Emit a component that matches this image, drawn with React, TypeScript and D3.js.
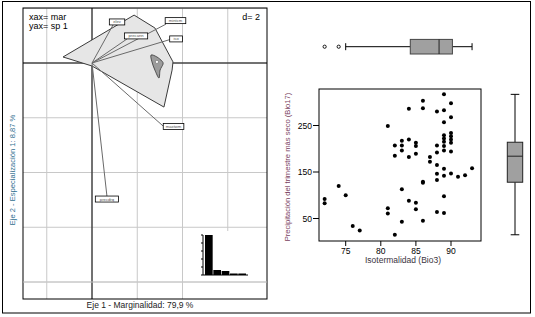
import React from "react";
import * as d3 from "d3";

// ---------- data ----------
const isoVals = [72, 72, 74, 75, 76, 77, 81, 81, 81, 82, 82, 82, 83, 83, 83, 83, 83, 84, 84, 84, 84, 85, 85, 85, 85, 85, 86, 86, 86, 86, 86, 87, 87, 88, 88, 88, 88, 88, 88, 88, 89, 89, 89, 89, 89, 89, 89, 89, 89, 89, 89, 89, 90, 90, 90, 90, 90, 90, 90, 90, 91, 92, 93];
const bio17Vals = [92, 83, 120, 100, 34, 24, 249, 72, 61, 207, 185, 15, 217, 207, 196, 113, 43, 286, 220, 182, 88, 213, 206, 189, 84, 70, 303, 287, 129, 127, 45, 182, 172, 280, 207, 192, 165, 146, 133, 64, 317, 283, 257, 229, 222, 215, 206, 196, 157, 142, 98, 62, 298, 268, 234, 227, 220, 213, 194, 147, 140, 143, 158];

const xTicks = [75, 80, 85, 90];
const yTicks = [50, 150, 250];

// boxplot stats: [whiskerLow, q1, median, q3, whiskerHigh]
const isoBox = [75, 84.2, 88.3, 90.2, 93];
const isoOutliers = [72, 74];
const bio17Box = [15, 128, 184, 214, 317];

// ENFA plot
const varNames = ["elev", "precann", "mintcm", "iso", "maxtwm", "precdrq"];
const varX = [0.93, 1.55, 3.27, 3.54, 3.14, 0.66];
const varY = [1.39, 0.88, 1.42, 0.88, -2.3, -4.86];
const hullX = [-1.28, 1.86, 2.78, 3.58, 3.54, 3.18, 0];
const hullY = [0.22, 1.75, 1.28, 0.04, -0.26, -1.61, -0.11];
const coreX = [2.61, 2.87, 3.09, 3.14, 3.01, 2.96, 2.78, 2.65];
const coreY = [0.29, 0.22, 0.07, -0.04, -0.26, -0.55, -0.26, 0.04];
const centroid = [2.87, 0.04];
const gridVals = [-2, 0, 2, 4, 6];
const gridValsY = [2, 0, -2, -4, -6, -8];
const eigen = [40, 5, 4, 1.5, 1.5];

const FONT = "Liberation Sans, Arial, sans-serif";

export default function App() {
  // ---------- left ENFA panel ----------
  const L = { x0: 23, x1: 267, y0: 8, y1: 299 };
  const ex = d3.scaleLinear().domain([0, 2]).range([92, 137.25]);
  const ey = d3.scaleLinear().domain([0, -2]).range([63, 117.75]);
  const line = d3.line<[number, number]>().x((d) => ex(d[0])).y((d) => ey(d[1]));
  const hull = hullX.map((v, i) => [v, hullY[i]] as [number, number]);
  const core = coreX.map((v, i) => [v, coreY[i]] as [number, number]);
  const labelOff = [
    [4, -3], [9, -3], [9.5, -3.5], [4, 0], [10.5, 0.5], [0, 3],
  ];

  // eigen inset
  const ib = { x0: 203, x1: 248, y0: 235, y1: 275 };
  const ibx = d3.scaleBand<number>().domain(eigen.map((_, i) => i)).range([205, 246]).paddingInner(0.08);
  const iby = d3.scaleLinear().domain([0, 40]).range([275, 235]);

  // ---------- scatter ----------
  const S = { x0: 319, x1: 481, y0: 89, y1: 241 };
  const sx = d3.scaleLinear().domain([75, 90]).range([345.7, 451]);
  const sy = d3.scaleLinear().domain([50, 250]).range([218.5, 125.5]);

  const boxY = 46.7;
  const boxX = 515;

  return (
    <svg width={535} height={317} style={{ position: "absolute", left: 0, top: 0, background: "#fff" }} fontFamily={FONT}>
      <rect x={2.5} y={1.5} width={528} height={311.5} fill="#fff" stroke="#000" strokeWidth={1} />

      {/* ENFA panel */}
      <g>
        <rect x={L.x0} y={L.y0} width={L.x1 - L.x0} height={L.y1 - L.y0} fill="#fff" />
        {gridVals.map((g) => (
          <line key={"gx" + g} x1={ex(g)} x2={ex(g)} y1={L.y0} y2={g === 6 ? 231 : L.y1} stroke="#c8c8c8" strokeWidth={1} />
        ))}
        {gridValsY.map((g) => (
          <line key={"gy" + g} x1={L.x0} x2={L.x1} y1={ey(g)} y2={ey(g)} stroke="#c8c8c8" strokeWidth={1} />
        ))}
        <line x1={ex(0)} x2={ex(0)} y1={L.y0} y2={L.y1} stroke="#000" strokeWidth={1} />
        <line x1={L.x0} x2={L.x1} y1={ey(0)} y2={ey(0)} stroke="#000" strokeWidth={1} />
        <path d={line(hull)! + "Z"} fill="#e6e6e6" stroke="#3a3a3a" strokeWidth={1} />
        <path d={d3.line<[number, number]>().x((d) => ex(d[0])).y((d) => ey(d[1])).curve(d3.curveCardinalClosed)(core)!} fill="#9c9c9c" stroke="#333" strokeWidth={0.8} />
        <circle cx={ex(centroid[0])} cy={ey(centroid[1])} r={1.6} fill="#fff" stroke="#555" strokeWidth={0.5} />
        {varNames.map((n, i) => (
          <line key={"ar" + n} x1={ex(0)} y1={ey(0)} x2={ex(varX[i])} y2={ey(varY[i])} stroke="#6a6a6a" strokeWidth={1} />
        ))}
        {varNames.map((n, i) => {
          const w = n.length * 2.6 + 5;
          const cx = ex(varX[i]) + labelOff[i][0];
          const cy = ey(varY[i]) + labelOff[i][1];
          return (
            <g key={"lb" + n}>
              <rect x={cx - w / 2} y={cy - 3} width={w} height={6} fill="#fff" stroke="#000" strokeWidth={0.8} />
              <text x={cx} y={cy + 1.5} fontSize={4.2} textAnchor="middle" fill="#555">{n}</text>
            </g>
          );
        })}
        <rect x={L.x0} y={L.y0} width={L.x1 - L.x0} height={L.y1 - L.y0} fill="none" stroke="#000" strokeWidth={1} />
        <text x={29} y={20} fontSize={9}>xax= mar</text>
        <text x={29} y={29} fontSize={9}>yax= sp 1</text>
        <text x={260} y={20} fontSize={9} textAnchor="end">d= 2</text>

        {/* eigen inset */}
        <rect x={200} y={231} width={50} height={47} fill="#fff" />
        <line x1={ib.x0} x2={ib.x0} y1={iby(40)} y2={iby(0)} stroke="#000" />
        {d3.range(0, 41, 8).map((t) => (
          <line key={"it" + t} x1={ib.x0 - 2} x2={ib.x0} y1={iby(t)} y2={iby(t)} stroke="#000" />
        ))}
        <line x1={ib.x0} x2={ib.x1} y1={iby(0)} y2={iby(0)} stroke="#000" />
        {eigen.map((v, i) => (
          <rect key={"eb" + i} x={ibx(i)!} y={iby(v)} width={ibx.bandwidth()} height={iby(0) - iby(v)} fill="#000" />
        ))}
        <line x1={L.x0} x2={L.x1} y1={ey(-8)} y2={ey(-8)} stroke="#c8c8c8" strokeWidth={1} />

        <text x={140} y={308} fontSize={8.5} textAnchor="middle" fill="#222">Eje 1 - Marginalidad: 79,9 %</text>
        <text transform="translate(15,170) rotate(-90)" fontSize={7.6} textAnchor="middle" fill="#2f6f8f">Eje 2 - Especialización 1: 8,87 %</text>
      </g>

      {/* scatter */}
      <g>
        <rect x={S.x0} y={S.y0} width={S.x1 - S.x0} height={S.y1 - S.y0} fill="none" stroke="#000" strokeWidth={1} />
        {isoVals.map((v, i) => (
          <circle key={"p" + i} cx={sx(v)} cy={sy(bio17Vals[i])} r={2} fill="#000" />
        ))}
        {yTicks.map((t) => (
          <g key={"yt" + t}>
            <line x1={S.x0 - 6} x2={S.x0} y1={sy(t)} y2={sy(t)} stroke="#000" />
            <text x={S.x0 - 7} y={sy(t) + 3} fontSize={8.5} textAnchor="end">{t}</text>
          </g>
        ))}
        {xTicks.map((t) => (
          <g key={"xt" + t}>
            <line x1={sx(t)} x2={sx(t)} y1={S.y1} y2={S.y1 + 5} stroke="#000" />
            <text x={sx(t)} y={S.y1 + 13} fontSize={8.5} textAnchor="middle">{t}</text>
          </g>
        ))}
        <text x={403} y={263} fontSize={8.5} textAnchor="middle" fill="#3a3440">Isotermalidad (Bio3)</text>
        <text transform="translate(290,167) rotate(-90)" fontSize={7.6} textAnchor="middle" fill="#7a3f5f">Precipitación del trimestre más seco (Bio17)</text>

        {/* top boxplot */}
        <line x1={sx(isoBox[0])} x2={sx(isoBox[1])} y1={boxY} y2={boxY} stroke="#000" />
        <line x1={sx(isoBox[3])} x2={sx(isoBox[4])} y1={boxY} y2={boxY} stroke="#000" />
        <line x1={sx(isoBox[0])} x2={sx(isoBox[0])} y1={boxY - 3.5} y2={boxY + 3.5} stroke="#000" />
        <line x1={sx(isoBox[4])} x2={sx(isoBox[4])} y1={boxY - 3.5} y2={boxY + 3.5} stroke="#000" />
        <rect x={sx(isoBox[1])} y={boxY - 7.3} width={sx(isoBox[3]) - sx(isoBox[1])} height={14.6} fill="#a0a0a0" stroke="#444" />
        <line x1={sx(isoBox[2])} x2={sx(isoBox[2])} y1={boxY - 7.3} y2={boxY + 7.3} stroke="#222" />
        {isoOutliers.map((o) => (
          <circle key={"o" + o} cx={sx(o)} cy={boxY} r={1.6} fill="none" stroke="#000" strokeWidth={0.9} />
        ))}

        {/* right boxplot */}
        <line x1={boxX} x2={boxX} y1={sy(bio17Box[0])} y2={sy(bio17Box[1])} stroke="#000" />
        <line x1={boxX} x2={boxX} y1={sy(bio17Box[3])} y2={sy(bio17Box[4])} stroke="#000" />
        <line x1={boxX - 4.3} x2={boxX + 4.3} y1={sy(bio17Box[0])} y2={sy(bio17Box[0])} stroke="#000" />
        <line x1={boxX - 4.3} x2={boxX + 4.3} y1={sy(bio17Box[4])} y2={sy(bio17Box[4])} stroke="#000" />
        <rect x={boxX - 7.7} y={sy(bio17Box[3])} width={15.4} height={sy(bio17Box[1]) - sy(bio17Box[3])} fill="#a0a0a0" stroke="#222" />
        <line x1={boxX - 7.7} x2={boxX + 7.7} y1={sy(bio17Box[2])} y2={sy(bio17Box[2])} stroke="#222" />
      </g>
    </svg>
  );
}
